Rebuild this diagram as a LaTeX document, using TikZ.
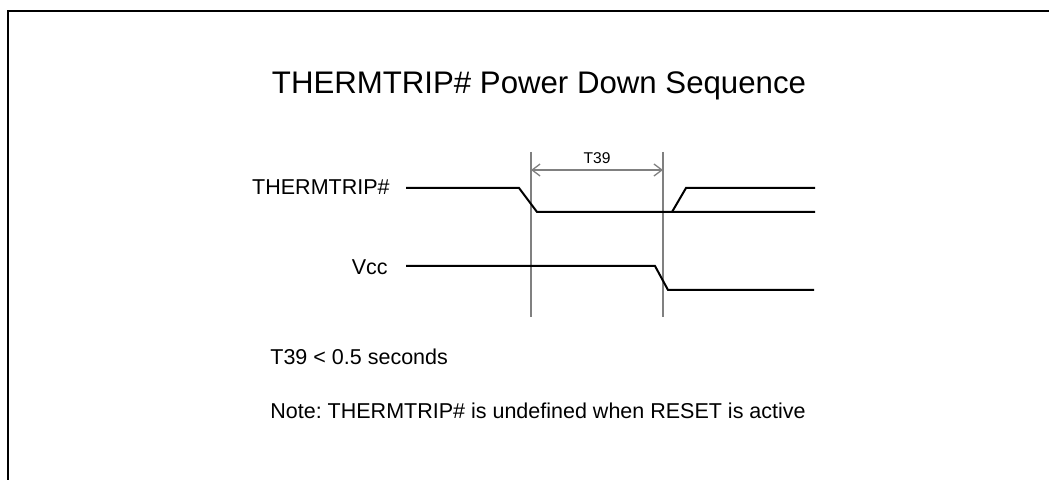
\documentclass[tikz,border=0pt]{standalone}
\usepackage{fontspec}
\setmainfont{Liberation Sans}
\usetikzlibrary{arrows.meta, positioning, calc}
\definecolor{markgray}{RGB}{128,128,128}
\frenchspacing

\begin{document}
\begin{tikzpicture}[x=0.5pt, y=-0.5pt,
    wave/.style={line width=1pt, black, line join=miter},
    marker/.style={line width=0.65pt, markgray},
    siglabel/.style={anchor=base east, inner sep=0pt, font=\fontsize{10.75}{12}\selectfont},
    notetext/.style={anchor=base west, inner sep=0pt, font=\fontsize{10.75}{12}\selectfont}]
    \useasboundingbox (0,0) rectangle (1049,480);
    % frame, cut by the page edge
    \draw[line width=1.2pt] (8,480) -- (8,11) -- (1049,11);

    \node[anchor=base, inner sep=0pt, font=\fontsize{15.6}{18}\selectfont] (title) at (539,94)
        {THERMTRIP\# Power Down Sequence};

    % timing markers
    \coordinate (t0) at (531,152);
    \coordinate (t1) at (663,152);
    \draw[marker] (t0) -- ++(0,165);
    \draw[marker] (t1) -- ++(0,165);
    \draw[marker, {Straight Barb[length=4pt, width=6pt]}-{Straight Barb[length=4pt, width=6pt]}]
        ($(t0)+(0,18)$) -- ($(t1)+(0,18)$)
        node[midway, above=3pt, inner sep=0pt, font=\fontsize{7.8}{9}\selectfont, black] (tlabel) {T39};

    % THERMTRIP#
    \node[siglabel] (thermlbl) at (390,195) {THERMTRIP\#};
    \draw[wave] (406,188) -- (519,188) -- (537,212) -- (815,212);
    \draw[wave] (672,212) -- (686,188) -- (815,188);

    % Vcc
    \node[siglabel] (vcclbl) at (388,275) {Vcc};
    \draw[wave] (406,266) -- (655,266) -- (668,290) -- (814,290);

    \node[notetext] (limit) at (270,365) {T39 < 0.5 seconds};
    \node[notetext] (note) at (270,418) {Note: THERMTRIP\# is undefined when RESET is active};
\end{tikzpicture}
\end{document}
